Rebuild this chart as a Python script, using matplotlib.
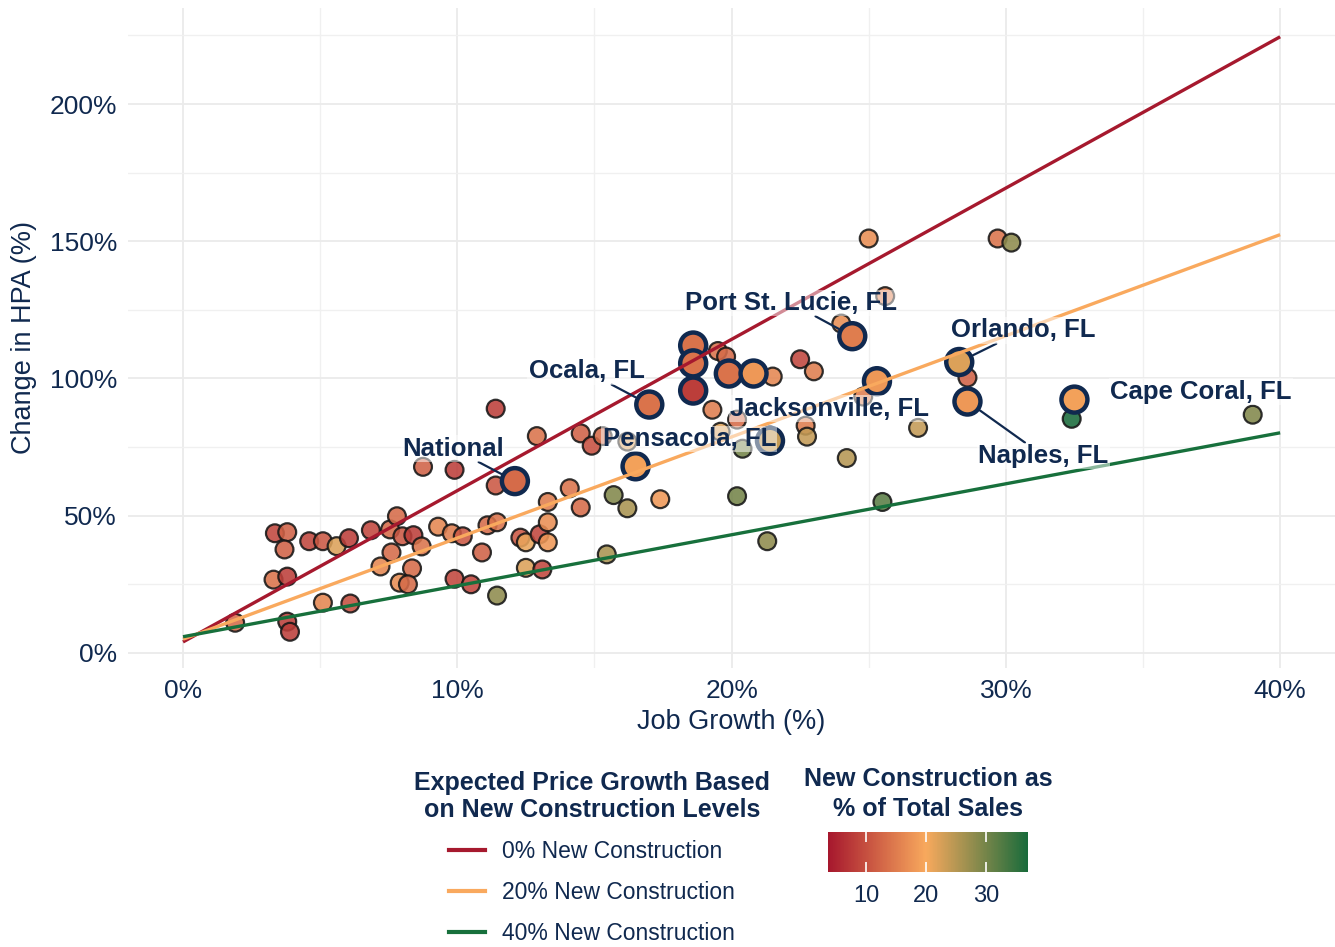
import numpy as np
import matplotlib
matplotlib.use("Agg")
import matplotlib.pyplot as plt
from matplotlib.colors import LinearSegmentedColormap
from matplotlib.lines import Line2D

plt.rcParams['font.family'] = ['Liberation Sans', 'DejaVu Sans']

navy = '#10294f'

# metros: job growth (%), change in HPA (%), new construction share of sales (%)
job_growth = [1.9, 3.8, 3.9, 3.3, 3.8, 3.35, 3.8, 3.7, 4.6, 5.1,
              5.6, 6.05, 6.85, 7.55, 7.8, 8.0, 8.4, 8.7, 7.6, 7.2,
              8.35, 7.9, 8.2, 5.1, 6.1, 9.3, 9.8, 10.2, 11.1, 11.45,
              10.9, 12.3, 12.5, 13.0, 13.3, 13.3, 12.5, 13.1, 9.9, 10.5,
              11.45, 11.4, 12.9, 8.75, 9.9, 11.4, 14.1, 13.3, 14.5, 14.9,
              15.3, 16.2, 15.7, 16.2, 17.4, 20.2, 21.3, 15.45, 19.5, 19.8,
              21.5, 22.5, 23.0, 19.3, 19.6, 20.2, 20.4, 22.7, 22.75, 25.0,
              29.7, 30.2, 25.6, 24.0, 24.8, 28.6, 32.4, 39.0, 26.8, 24.2,
              25.5, 14.5]
hpa_change = [11, 11.4, 7.7, 26.7, 27.8, 43.6, 44, 37.7, 40.7, 40.7,
              38.9, 41.8, 44.7, 45, 49.8, 42.5, 42.9, 38.8, 36.6, 31.5,
              30.8, 25.6, 25, 18.3, 18, 46, 43.6, 42.5, 46.5, 47.6,
              36.6, 42, 40.3, 43.2, 47.6, 40.3, 31, 30.4, 27, 25,
              20.9, 89, 79, 67.8, 66.7, 61, 60, 55, 80, 75.5,
              79, 77, 57.5, 52.7, 56, 57.1, 40.7, 35.9, 110, 108,
              100.7, 107, 102.6, 88.6, 80.6, 85, 74.4, 82.8, 78.8, 151,
              151, 149.5, 130, 120, 93.4, 100.3, 85.3, 86.8, 82, 71,
              55, 53]
new_con = [13, 8, 8, 14, 8, 9, 12, 12, 9, 11,
           22, 8, 9, 13, 13, 11, 8, 14, 13, 16,
           13, 17, 13, 16, 10, 16, 15, 11, 13, 14,
           12, 11, 21, 9, 17, 18, 22, 9, 9, 9,
           28, 8, 14, 12, 8, 11, 14, 15, 12, 10,
           13, 22, 29, 26, 18, 30, 28, 26, 14, 13,
           16, 9, 15, 15, 22, 13, 30, 15, 24, 17,
           14, 28, 15, 17, 15, 12, 37, 29, 24, 25,
           32, 13]

# highlighted metros
hl_names = ['National', 'Pensacola, FL', 'Ocala, FL', '', '', '', '', '',
            'Jacksonville, FL', 'Port St. Lucie, FL', '', 'Orlando, FL',
            'Naples, FL', 'Cape Coral, FL']
hl_job = [12.1, 16.5, 17.0, 18.6, 18.6, 18.6, 19.9, 20.8, 21.4, 24.4, 25.3, 28.3, 28.6, 32.5]
hl_hpa = [62.6, 68, 90.5, 112, 105.5, 95.6, 101.8, 101.8, 77.3, 115.4, 99, 106, 91.6, 92.3]
hl_con = [13, 19, 14, 14, 14, 8, 14, 18, 24, 15, 18, 22, 18, 19]

# expected price growth lines
line_job = [0, 40]
line_names = ['0% New Construction', '20% New Construction', '40% New Construction']
line_hpa = [[4.0, 224.5], [5.0, 152.4], [5.9, 80.2]]
line_colors = ['#a6192e', '#f9a95e', '#17703c']

# label placement (text left edge, text center y) and whether to draw a leader
label_pos = {
    'National': (8.0, 74.4, True),
    'Ocala, FL': (12.6, 102.6, True),
    'Port St. Lucie, FL': (18.3, 127.5, True),
    'Orlando, FL': (28.0, 117.5, True),
    'Cape Coral, FL': (33.8, 95.2, False),
    'Naples, FL': (29.0, 71.8, True),
    'Jacksonville, FL': (19.95, 89.0, False),
    'Pensacola, FL': (15.3, 78.0, False),
}

cmap = LinearSegmentedColormap.from_list('nc', [(0, '#a6172d'), (0.49, '#f8a95d'), (1, '#196b3b')])
vmin, vmax = 3.6, 37

fig = plt.figure(figsize=(13.35, 9.47), dpi=100)
ax = fig.add_axes([0.096, 0.2946, 0.904, 0.697])

for i in range(3):
    ax.plot(line_job, line_hpa[i], color=line_colors[i], lw=2.4, zorder=5, solid_capstyle='butt')

ax.scatter(job_growth, hpa_change, c=new_con, cmap=cmap, vmin=vmin, vmax=vmax,
           s=165, edgecolors='#161616', linewidths=1.6, alpha=0.88, zorder=3)
sc = ax.scatter(hl_job, hl_hpa, c=hl_con, cmap=cmap, vmin=vmin, vmax=vmax,
                s=350, edgecolors=navy, linewidths=3.2, zorder=4)

for name, x, y in zip(hl_names, hl_job, hl_hpa):
    if name == '':
        continue
    lx, ly, leader = label_pos[name]
    ax.annotate(name, xy=(x, y), xytext=(lx, ly), textcoords='data',
                ha='left', va='center', fontsize=18.5, fontweight='bold', color=navy,
                bbox=dict(boxstyle='square,pad=0.05', fc='white', ec='none', alpha=0.5),
                arrowprops=dict(arrowstyle='-', color=navy, lw=1.6, shrinkA=0, shrinkB=11) if leader else None,
                zorder=6)

ax.set_xlim(-2, 42)
ax.set_ylim(-5.5, 235)
ax.set_xticks([0, 10, 20, 30, 40])
ax.set_xticks([5, 15, 25, 35], minor=True)
ax.set_yticks([0, 50, 100, 150, 200])
ax.set_yticks([25, 75, 125, 175, 225], minor=True)
ax.set_xticklabels([f'{v}%' for v in [0, 10, 20, 30, 40]])
ax.set_yticklabels([f'{v}%' for v in [0, 50, 100, 150, 200]])
ax.grid(which='major', color='#ebebeb', lw=1.3)
ax.grid(which='minor', color='#f0f0f0', lw=1.0)
ax.set_axisbelow(True)
for s in ax.spines.values():
    s.set_visible(False)
ax.tick_params(which='both', length=0, labelsize=19, labelcolor=navy, pad=8)
ax.set_xlabel('Job Growth (%)', fontsize=19.5, color=navy, labelpad=4)
ax.set_ylabel('Change in HPA (%)', fontsize=19.5, color=navy, labelpad=9)

handles = [Line2D([0], [0], color=c, lw=3) for c in line_colors]
leg = fig.legend(handles, line_names, loc='upper center', bbox_to_anchor=(592 / 1335, 1 - 750 / 947),
                 frameon=False, fontsize=16.5, title='Expected Price Growth Based\non New Construction Levels',
                 title_fontproperties={'weight': 'bold', 'size': 18}, alignment='center',
                 handlelength=1.6, handletextpad=0.75, labelspacing=0.78)
leg.get_title().set_color(navy)
leg.get_title().set_multialignment('center')
leg.get_title().set_linespacing(1.2)
for t in leg.get_texts():
    t.set_color(navy)

cax = fig.add_axes([828 / 1335, 1 - 872 / 947, 200 / 1335, 40 / 947])
cb = fig.colorbar(sc, cax=cax, orientation='horizontal', ticks=[10, 20, 30])
cb.outline.set_visible(False)
cax.xaxis.set_ticks_position('both')
cax.tick_params(direction='in', length=7, width=1.2, color='white', labelsize=17, labelcolor=navy, pad=9)
fig.text(928 / 1335, 1 - 794 / 947, 'New Construction as\n% of Total Sales', ha='center', va='center',
         fontsize=18, fontweight='bold', color=navy, linespacing=1.35)

fig.savefig('out.png', dpi=100)
